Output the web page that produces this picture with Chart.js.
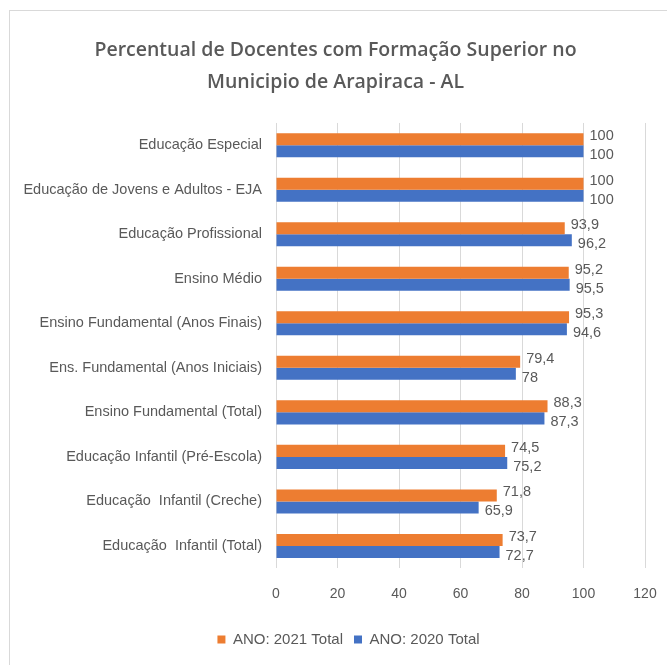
<!DOCTYPE html>
<html>
<head>
<meta charset="utf-8">
<script src="https://cdn.jsdelivr.net/npm/chart.js@4"></script>
<style>
html,body{margin:0;padding:0;background:#fff;}
#wrap{position:absolute;left:0;top:0;width:667px;height:665px;}
#frame{position:absolute;left:9px;top:10px;width:670px;height:670px;border-left:1px solid #d9d9d9;border-top:1px solid #d9d9d9;}
canvas{position:absolute;left:0;top:0;}
</style>
</head>
<body>
<div id="wrap">
<div id="frame"></div>
<canvas id="c" width="667" height="665"></canvas>
</div>
<script>
const categories = [
  "Educação Especial",
  "Educação de Jovens e Adultos - EJA",
  "Educação Profissional",
  "Ensino Médio",
  "Ensino Fundamental (Anos Finais)",
  "Ens. Fundamental (Anos Iniciais)",
  "Ensino Fundamental (Total)",
  "Educação Infantil (Pré-Escola)",
  "Educação  Infantil (Creche)",
  "Educação  Infantil (Total)"
];
const values2021 = [100, 100, 93.9, 95.2, 95.3, 79.4, 88.3, 74.5, 71.8, 73.7];
const values2020 = [100, 100, 96.2, 95.5, 94.6, 78, 87.3, 75.2, 65.9, 72.7];
const seriesNames = ["ANO: 2021 Total", "ANO: 2020 Total"];
const titleLines = ["Percentual de Docentes com Formação Superior no", "Municipio de Arapiraca - AL"];

const FONT = "'Liberation Sans', sans-serif";
const GRAY = "#595959";

const labelPlugin = {
  id: 'barLabels',
  afterLayout(chart) {
    if (chart.legend) { chart.legend.left += 13; chart.legend.right += 13; }
  },
  afterDatasetsDraw(chart) {
    const ctx = chart.ctx;
    ctx.save();
    ctx.font = "14.5px " + FONT;
    ctx.fillStyle = GRAY;
    ctx.textAlign = 'left';
    ctx.textBaseline = 'middle';
    chart.data.datasets.forEach((ds, di) => {
      const meta = chart.getDatasetMeta(di);
      meta.data.forEach((bar, i) => {
        const v = ds.data[i];
        const txt = String(v).replace('.', ',');
        const dy = di === 0 ? -3 : 4;
        ctx.fillText(txt, bar.x + 6, bar.y + dy);
      });
    });
    ctx.restore();
  }
};

new Chart(document.getElementById('c'), {
  type: 'bar',
  data: {
    labels: categories,
    datasets: [
      { label: seriesNames[0], data: values2021, backgroundColor: '#ED7D31', categoryPercentage: 0.54, barPercentage: 1.0 },
      { label: seriesNames[1], data: values2020, backgroundColor: '#4472C4', categoryPercentage: 0.54, barPercentage: 1.0 }
    ]
  },
  plugins: [labelPlugin],
  options: {
    indexAxis: 'y',
    responsive: false,
    animation: false,
    layout: { padding: { left: 10, right: 6, top: 34, bottom: 8 } },
    scales: {
      x: {
        min: 0, max: 120,
        ticks: { stepSize: 20, color: GRAY, font: { family: FONT, size: 14 }, padding: 18 },
        grid: { color: '#d9d9d9', drawTicks: false },
        border: { display: false },
        afterFit(scale) { scale.paddingRight = 22; scale.paddingLeft = 0; }
      },
      y: {
        ticks: { color: GRAY, font: { family: FONT, size: 14.5 }, padding: 6 },
        grid: { display: false },
        border: { display: false },
        afterFit(scale) { scale.width = 266; }
      }
    },
    plugins: {
      title: {
        display: true,
        text: titleLines,
        color: GRAY,
        font: { family: "'Open Sans', sans-serif", size: 19.5, weight: '600', lineHeight: 1.64 },
        padding: { top: 0, bottom: 25 }
      },
      legend: {
        position: 'bottom',
        labels: {
          color: GRAY,
          font: { family: FONT, size: 15 },
          boxWidth: 8, boxHeight: 8,
          padding: 11
        }
      },
      tooltip: { enabled: false }
    }
  }
});
</script>
</body>
</html>
